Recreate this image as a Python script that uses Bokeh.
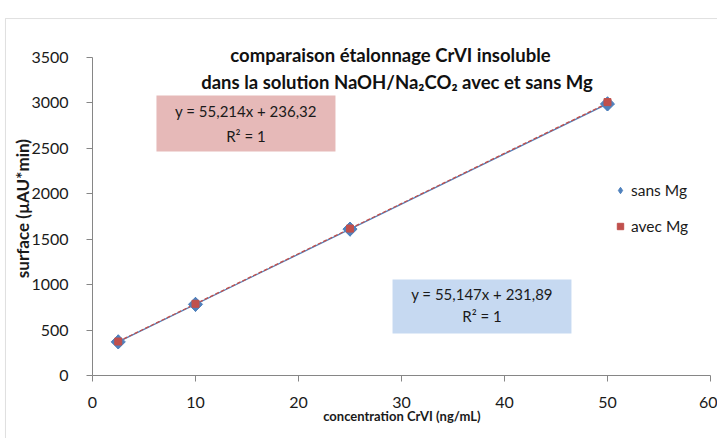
from bokeh.plotting import figure
from bokeh.models import Label, BoxAnnotation, Legend, LegendItem, FixedTicker, Range1d
from bokeh.embed import file_html
from bokeh.resources import INLINE
import math

# ---- data ----
conc = [2.5, 10, 25, 50]
sans_mg = [370, 783, 1611, 2989]
avec_mg = [374, 789, 1617, 3009]
fit_sans = (55.147, 231.89)
fit_avec = (55.214, 236.32)
x_ticks = [0, 10, 20, 30, 40, 50, 60]
y_ticks = [0, 500, 1000, 1500, 2000, 2500, 3000, 3500]
title_lines = ["comparaison étalonnage CrVI insoluble",
               "dans la solution NaOH/Na₂CO₂ avec et sans Mg"]
eq_avec = ["y = 55,214x + 236,32", "R² = 1"]
eq_sans = ["y = 55,147x + 231,89", "R² = 1"]
x_label = "concentration  CrVI (ng/mL)"
y_label = "surface  (µAU*min)"

FONT = "Lato"
BLUE = "#4F81BD"
RED = "#C0504D"
AXC = "#868686"
TXT = "#1a1a1a"

# frame covers the whole canvas; axes are pinned at data 0
p = figure(width=717, height=438, output_backend="svg", toolbar_location=None,
           x_range=Range1d(-8.932, 60.68), y_range=Range1d(-693.4, 4127.4),
           min_border=0, min_border_left=0, min_border_right=0,
           min_border_top=0, min_border_bottom=0)
p.outline_line_color = None
p.xgrid.visible = False
p.ygrid.visible = False

for ax in (p.xaxis[0], p.yaxis[0]):
    ax.fixed_location = 0
    ax.axis_line_color = AXC
    ax.major_tick_line_color = AXC
    ax.major_tick_out = 6
    ax.major_tick_in = 0
    ax.minor_tick_line_color = None
    ax.major_label_text_font = FONT
    ax.major_label_text_font_size = "16px"
    ax.major_label_text_color = TXT
p.xaxis.ticker = FixedTicker(ticks=x_ticks)
p.yaxis.ticker = FixedTicker(ticks=y_ticks)
p.xaxis.bounds = (0, 60)
p.yaxis.bounds = (0, 3500)
p.xaxis.major_label_standoff = 15
p.yaxis.major_label_standoff = 18

# trend lines
xs_fit = [conc[0], conc[-1]]
p.line(xs_fit, [fit_sans[0] * x + fit_sans[1] for x in xs_fit], line_color=BLUE, line_width=1.3)
p.line(xs_fit, [fit_avec[0] * x + fit_avec[1] for x in xs_fit], line_color=RED, line_width=1.3,
       line_dash="4 2")

# diamond glyph (used as legend swatch), hidden under the rotated squares
r_sans_leg = p.scatter(conc, sans_mg, marker="diamond", size=14, fill_color=BLUE, line_color=BLUE)
r_sans = p.scatter(conc, sans_mg, marker="square", angle=math.pi / 4, size=10,
                   fill_color=BLUE, line_color=BLUE)
r_avec = p.scatter(conc, avec_mg, marker="square", size=7, fill_color=RED, line_color=RED)

legend = Legend(items=[LegendItem(label="sans Mg", renderers=[r_sans_leg]),
                       LegendItem(label="avec Mg", renderers=[r_avec])],
                location=(612, 202), border_line_color=None, background_fill_alpha=0,
                padding=0, margin=0, spacing=16, glyph_width=16, glyph_height=16,
                label_height=20, label_text_font=FONT, label_text_font_size="15.5px",
                label_standoff=3, label_text_color=TXT)
p.add_layout(legend)

# equation boxes
p.add_layout(BoxAnnotation(left=6.21, right=23.59, bottom=2465, top=3082,
                           fill_color="#E6B9B8", fill_alpha=1, line_color=None, level="underlay"))
p.add_layout(BoxAnnotation(left=29.13, right=46.5, bottom=462, top=1057,
                           fill_color="#C6D9F1", fill_alpha=1, line_color=None, level="underlay"))
for (xc, y1, y2, lines) in [(14.9, 2906, 2641, eq_avec), (37.82, 902, 660, eq_sans)]:
    p.add_layout(Label(x=xc, y=y1, text=lines[0], text_align="center", text_baseline="middle",
                       text_font=FONT, text_font_size="15px", text_color=TXT))
    p.add_layout(Label(x=xc, y=y2, text=lines[1], text_align="center", text_baseline="middle",
                       text_font=FONT, text_font_size="15px", text_color=TXT))

# title
p.add_layout(Label(x=28.93, y=3533, text=title_lines[0], text_align="center", text_baseline="middle",
                   text_font=FONT, text_font_style="bold", text_font_size="18.5px", text_color="#111111"))
p.add_layout(Label(x=29.56, y=3225, text=title_lines[1], text_align="center", text_baseline="middle",
                   text_font=FONT, text_font_style="bold", text_font_size="18.5px", text_color="#111111"))

# axis labels
p.add_layout(Label(x=-6.8, y=1860, text=y_label, angle=math.pi / 2,
                   text_align="center", text_baseline="middle",
                   text_font=FONT, text_font_style="bold", text_font_size="17px", text_color=TXT))
p.add_layout(Label(x=30.19, y=-451, text=x_label,
                   text_align="center", text_baseline="middle",
                   text_font=FONT, text_font_style="bold", text_font_size="13px", text_color=TXT))

# chart border
p.add_layout(BoxAnnotation(left=-8.447, right=70, top=3929, bottom=-900,
                           fill_alpha=0, line_color="#999999", line_width=1))

open("out.html", "w").write(file_html(p, INLINE))
